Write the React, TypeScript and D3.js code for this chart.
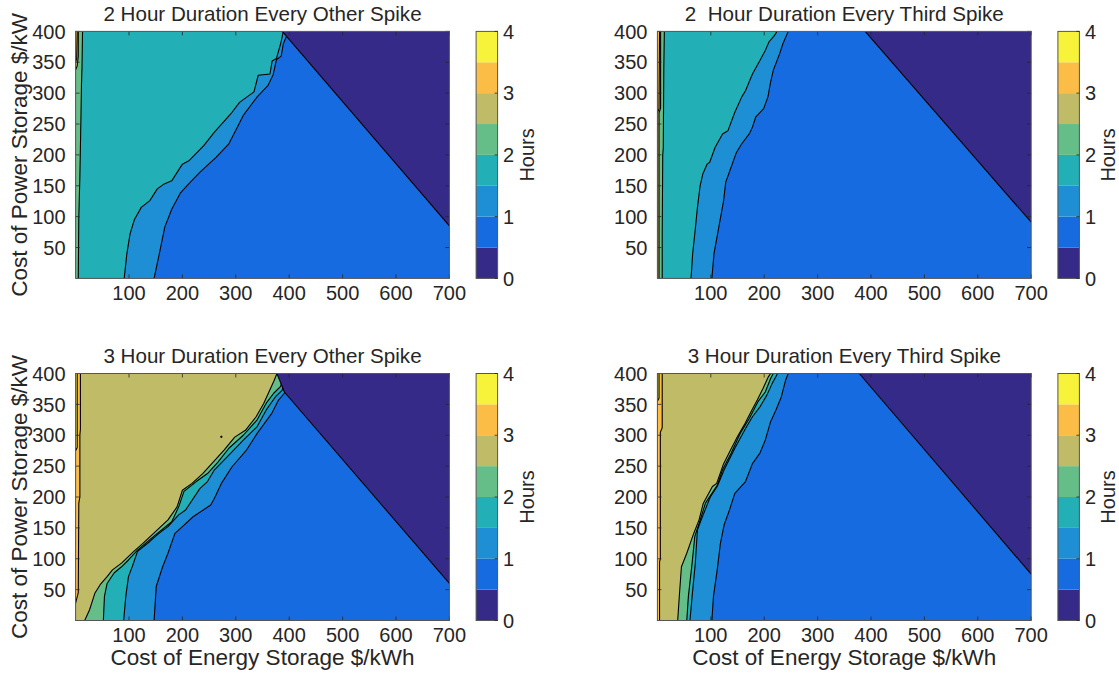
import React from 'react';
import * as d3 from 'd3';

type Pt = [number, number];

// ---------- shared scales / labels ----------
const levels = [0, 0.5, 1, 1.5, 2, 2.5, 3, 3.5, 4];
const levelColors = ['#352a87', '#176be0', '#1f8fd5', '#22afb5', '#65be88', '#c0bb67', '#fbbd45', '#f7f23a'];
const xTicks = [100, 200, 300, 400, 500, 600, 700];
const yTicks = [50, 100, 150, 200, 250, 300, 350, 400];
const cbTicks = [0, 1, 2, 3, 4];
const titles = [
  '2 Hour Duration Every Other Spike',
  '2  Hour Duration Every Third Spike',
  '3 Hour Duration Every Other Spike',
  '3 Hour Duration Every Third Spike',
];
const xLabel = 'Cost of Energy Storage $/kWh';
const yLabel = 'Cost of Power Storage $/kW';
const cbLabel = 'Hours';

// ---------- panel 1: 2 h every other spike ----------
const p1Navy: Pt[] = [[700, 85], [387, 400]];
const p1L1: Pt[] = [[147, 0], [158, 45], [167, 83], [180, 112], [196, 138], [214, 155], [233, 172], [263, 196], [287, 218], [300, 240], [314, 264], [340, 294], [360, 312], [370, 330], [376, 354], [385, 360], [389, 380], [395, 392], [398, 400]];
const p1L15: Pt[] = [[91, 0], [96, 40], [102, 72], [110, 95], [123, 115], [139, 126], [153, 145], [166, 153], [180, 158], [200, 185], [213, 191], [240, 215], [260, 237], [293, 269], [307, 285], [334, 302], [342, 329], [364, 331], [368, 352], [376, 356], [384, 380], [389, 400]];
const p1L2: Pt[] = [[5, 0], [6, 100], [8, 164], [10, 260], [11, 315], [12, 342], [13, 400]];
const p1L25: Pt[] = [[0, 338], [3, 344], [5, 360], [5, 400]];
const p1L3: Pt[] = [[0, 350], [2, 356], [3, 400]];

// ---------- panel 2: 2 h every third spike ----------
const p2Navy: Pt[] = [[700, 91], [389, 400]];
const p2L1: Pt[] = [[102, 0], [106, 40], [115, 83], [124, 126], [128, 156], [138, 180], [148, 204], [158, 218], [172, 234], [178, 245], [184, 261], [199, 275], [207, 294], [212, 318], [217, 337], [229, 364], [235, 380], [245, 400]];
const p2L15: Pt[] = [[63, 0], [66, 40], [70, 72], [75, 115], [80, 150], [85, 169], [93, 185], [98, 188], [108, 212], [122, 234], [132, 239], [145, 269], [158, 294], [165, 304], [178, 331], [192, 353], [202, 369], [209, 383], [219, 393], [224, 400]];
const p2L2: Pt[] = [[9, 0], [9, 70], [10, 200], [11, 212], [12, 340], [13, 400]];
const p2L25: Pt[] = [[3, 0], [3, 268], [6, 276], [6, 400]];
const p2L3: Pt[] = [[0, 268], [3, 275], [4, 400]];

// ---------- panel 3: 3 h every other spike ----------
const p3Navy: Pt[] = [[700, 60], [391, 370], [377, 400]];
const p3L1: Pt[] = [[147, 0], [151, 55], [163, 87], [173, 109], [186, 141], [200, 152], [220, 168], [253, 187], [260, 198], [273, 222], [293, 249], [320, 276], [340, 303], [367, 335], [380, 357], [391, 368], [396, 400]];
const p3L15: Pt[] = [[90, 0], [94, 39], [99, 71], [106, 87], [116, 112], [139, 128], [156, 141], [173, 152], [193, 171], [206, 179], [233, 214], [247, 225], [260, 244], [287, 268], [314, 292], [340, 314], [357, 341], [374, 362], [387, 373], [393, 400]];
const p3L2: Pt[] = [[52, 0], [54, 39], [59, 60], [72, 77], [86, 87], [99, 98], [116, 114], [139, 131], [153, 141], [180, 160], [193, 184], [203, 209], [226, 225], [247, 238], [267, 257], [287, 279], [314, 300], [340, 325], [357, 352], [371, 368], [384, 379], [390, 400]];
const p3L25: Pt[] = [[17, 0], [26, 17], [36, 44], [46, 58], [59, 71], [69, 82], [86, 93], [109, 112], [126, 125], [146, 141], [173, 163], [190, 184], [200, 211], [218, 222], [238, 238], [258, 257], [278, 276], [298, 297], [318, 308], [338, 330], [352, 351], [362, 370], [372, 389], [377, 400]];
const p3L3: Pt[] = [[0, 28], [5, 45], [6, 190], [8, 200], [8, 300], [9, 310], [9, 400]];
const p3L35: Pt[] = [[0, 275], [3, 280], [3, 400]];
const p3Island: Pt[] = [[272, 296.5], [274, 296.5], [274, 298.5], [272, 298.5], [272, 296.5]];

// ---------- panel 4: 3 h every third spike ----------
const p4Navy: Pt[] = [[700, 75], [378, 400]];
const p4L1: Pt[] = [[102, 0], [105, 39], [112, 82], [118, 125], [125, 155], [135, 179], [145, 206], [165, 225], [178, 254], [192, 271], [202, 292], [212, 322], [222, 341], [232, 362], [240, 389], [245, 400]];
const p4L15: Pt[] = [[61, 0], [65, 39], [71, 93], [75, 147], [82, 163], [99, 200], [112, 217], [125, 244], [145, 279], [165, 311], [178, 330], [192, 346], [205, 365], [215, 384], [222, 395], [225, 400]];
const p4L2: Pt[] = [[55, 0], [58, 39], [65, 93], [70, 136], [78, 157], [90, 190], [112, 219], [122, 244], [138, 271], [155, 303], [172, 327], [188, 354], [202, 370], [212, 392], [217, 400]];
const p4L25: Pt[] = [[38, 0], [41, 39], [45, 87], [55, 109], [68, 141], [78, 163], [86, 190], [103, 217], [111, 222], [124, 254], [137, 276], [150, 298], [164, 319], [177, 341], [187, 357], [198, 376], [208, 395], [212, 400]];
const p4L3: Pt[] = [[4, 0], [4, 95], [5.5, 100], [5.5, 305], [9, 312], [9, 400]];
const p4L35: Pt[] = [[0, 355], [3, 360], [3, 400]];

const FONT = '"Liberation Sans", Arial, Helvetica, sans-serif';
const PW = 373.8;
const PH = 247;
const TXT = '#262626';

interface PanelSpec {
  title: string;
  left: number;
  top: number;
  navy: Pt[];
  contours: [number, Pt[]][];
  islands: Pt[][];
  showY: boolean;
  showX: boolean;
}

const panels: PanelSpec[] = [
  { title: titles[0], left: 75.6, top: 31.4, navy: p1Navy, contours: [[1, p1L1], [1.5, p1L15], [2, p1L2], [2.5, p1L25], [3, p1L3]], islands: [], showY: true, showX: false },
  { title: titles[1], left: 657.4, top: 31.4, navy: p2Navy, contours: [[1, p2L1], [1.5, p2L15], [2, p2L2], [2.5, p2L25], [3, p2L3]], islands: [], showY: false, showX: false },
  { title: titles[2], left: 75.6, top: 373.5, navy: p3Navy, contours: [[1, p3L1], [1.5, p3L15], [2, p3L2], [2.5, p3L25], [3, p3L3], [3.5, p3L35]], islands: [p3Island], showY: true, showX: true },
  { title: titles[3], left: 657.4, top: 373.5, navy: p4Navy, contours: [[1, p4L1], [1.5, p4L15], [2, p4L2], [2.5, p4L25], [3, p4L3], [3.5, p4L35]], islands: [], showY: false, showX: true },
];

function closeLeft(pts: Pt[]): Pt[] {
  const r: Pt[] = [...pts];
  const f = pts[0];
  const l = pts[pts.length - 1];
  if (l[1] >= 400) r.push([0, 400]);
  if (f[1] <= 0) r.push([0, 0]);
  return r;
}

function Panel({ p, idx }: { p: PanelSpec; idx: number }) {
  const xs = d3.scaleLinear().domain([0, 700]).range([p.left, p.left + PW]);
  const ys = d3.scaleLinear().domain([0, 400]).range([p.top + PH, p.top]);
  const line = d3.line<Pt>().x((d) => xs(d[0])).y((d) => ys(d[1]));
  const colorOf = (lv: number) => levelColors[Math.round(lv / 0.5)];
  const sorted = [...p.contours].sort((a, b) => a[0] - b[0]);
  const navyPoly: Pt[] = [...p.navy, [700, 400]];
  const clipId = `clip${idx}`;
  const bottom = p.top + PH;
  const right = p.left + PW;
  const cbL = right + 26.7;
  const cbW = 21.5;
  const cs = d3.scaleLinear().domain([0, 4]).range([bottom, p.top]);
  const tl = 4;
  return (
    <g>
      <defs>
        <clipPath id={clipId}>
          <rect x={p.left} y={p.top} width={PW} height={PH} />
        </clipPath>
      </defs>
      <g clipPath={`url(#${clipId})`}>
        <rect x={p.left} y={p.top} width={PW} height={PH} fill={levelColors[1]} />
        {sorted.map(([lv, pts], i) => (
          <path key={'f' + i} d={line(closeLeft(pts))! + 'Z'} fill={colorOf(lv)} stroke="none" />
        ))}
        {sorted.map(([lv, pts], i) => (
          <path key={'s' + i} d={line(pts)!} fill="none" stroke="#000" strokeWidth={1.1} strokeLinejoin="round" />
        ))}
        {p.islands.map((pts, i) => (
          <path key={'is' + i} d={line(pts)! + 'Z'} fill="#000" stroke="#000" strokeWidth={1} />
        ))}
        <path d={line(navyPoly)! + 'Z'} fill={levelColors[0]} stroke="none" />
        <path d={line(p.navy)!} fill="none" stroke="#000" strokeWidth={1.1} />
      </g>
      {xTicks.map((t) => (
        <g key={'xt' + t}>
          <line x1={xs(t)} x2={xs(t)} y1={bottom} y2={bottom - tl} stroke={TXT} strokeWidth={0.8} />
          <line x1={xs(t)} x2={xs(t)} y1={p.top} y2={p.top + tl} stroke={TXT} strokeWidth={0.8} />
          <text x={xs(t)} y={bottom + 21.5} textAnchor="middle" fontSize={20} fill={TXT}>{t}</text>
        </g>
      ))}
      {yTicks.map((t) => (
        <g key={'yt' + t}>
          <line x1={p.left} x2={p.left + tl} y1={ys(t)} y2={ys(t)} stroke={TXT} strokeWidth={0.8} />
          <line x1={right} x2={right - tl} y1={ys(t)} y2={ys(t)} stroke={TXT} strokeWidth={0.8} />
          <text x={p.left - 10} y={ys(t)} dy="0.36em" textAnchor="end" fontSize={20} fill={TXT}>{t}</text>
        </g>
      ))}
      <rect x={p.left} y={p.top} width={PW} height={PH} fill="none" stroke="#555" strokeWidth={1} />
      <text x={(p.left + right) / 2} y={p.top - 10.5} textAnchor="middle" fontSize={20.6} fill={TXT} style={{ whiteSpace: 'pre' }}>{p.title}</text>
      {p.showY && (
        <text transform={`translate(27,${(p.top + bottom) / 2}) rotate(-90)`} textAnchor="middle" fontSize={22.5} fill={TXT}>{yLabel}</text>
      )}
      {p.showX && (
        <text x={(p.left + right) / 2} y={665} textAnchor="middle" fontSize={22.5} fill={TXT}>{xLabel}</text>
      )}
      {levelColors.map((c, i) => (
        <rect key={'cb' + i} x={cbL} y={cs(levels[i + 1])} width={cbW} height={cs(levels[i]) - cs(levels[i + 1])} fill={c} />
      ))}
      <rect x={cbL} y={p.top} width={cbW} height={PH} fill="none" stroke="#555" strokeWidth={1} />
      {cbTicks.map((t) => (
        <g key={'cbt' + t}>
          <line x1={cbL + cbW} x2={cbL + cbW - 3} y1={cs(t)} y2={cs(t)} stroke={TXT} strokeWidth={0.8} />
          <text x={cbL + cbW + 5.5} y={cs(t)} dy="0.36em" fontSize={20} fill={TXT}>{t}</text>
        </g>
      ))}
      <text transform={`translate(${cbL + cbW + 36},${(p.top + bottom) / 2}) rotate(-90)`} textAnchor="middle" fontSize={20} fill={TXT}>{cbLabel}</text>
    </g>
  );
}

export default function App() {
  return (
    <svg width={1119} height={674} style={{ position: 'absolute', left: 0, top: 0, background: '#fff' }} fontFamily={FONT}>
      {panels.map((p, i) => (
        <Panel key={i} p={p} idx={i} />
      ))}
    </svg>
  );
}
